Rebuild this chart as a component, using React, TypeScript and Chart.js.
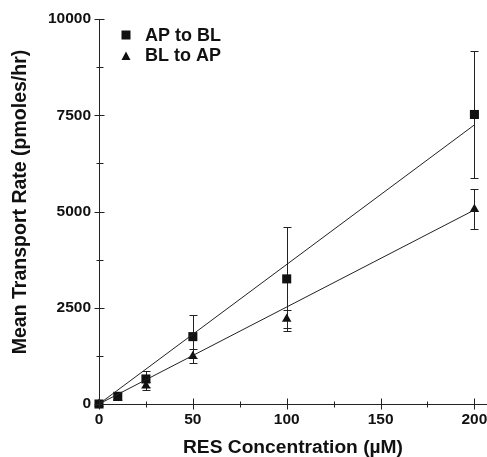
import React, { useEffect, useRef } from "react";
import { Chart, registerables } from "chart.js";

Chart.register(...registerables);

const concentrations = [0, 10, 25, 50, 100, 200];
const apToBl = [0, 200, 650, 1750, 3250, 7520];
const apToBlErr = [0, 0, 215, 550, 1360, 1640];
const blToAp = [0, 150, 475, 1240, 2210, 5060];
const blToApErr = [0, 0, 100, 180, 230, 520];
const fitX = [0, 200];
const fitAp = [0, 7250];
const fitBl = [0, 5040];
const xMajorTicks = [0, 50, 100, 150, 200];
const xMinorTicks = [25, 75, 125, 175];
const yMajorTicks = [0, 2500, 5000, 7500, 10000];
const yMinorTicks = [1250, 3750, 6250, 8750];
const legendLabels = ["AP to BL", "BL to AP"];
const yTitle = "Mean Transport Rate (pmoles/hr)";
const xTitle = "RES Concentration (µM)";

const FONT = "'Liberation Sans', Arial, Helvetica, sans-serif";
const INK = "#111";

const decorations = {
  id: "decorations",
  beforeDatasetsDraw(chart: any) {
    const { ctx, scales } = chart;
    const xs = scales.x;
    const ys = scales.y;
    ctx.save();
    ctx.strokeStyle = "#222";
    ctx.lineWidth = 1;
    const drawSeries = (vals: number[], errs: number[]) => {
      concentrations.forEach((c, i) => {
        const e = errs[i];
        if (!e) return;
        const x = Math.round(xs.getPixelForValue(c)) + 0.5;
        const yt = Math.round(ys.getPixelForValue(vals[i] + e)) + 0.5;
        const yb = Math.round(ys.getPixelForValue(vals[i] - e)) + 0.5;
        ctx.beginPath();
        ctx.moveTo(x, yt);
        ctx.lineTo(x, yb);
        ctx.moveTo(x - 4, yt);
        ctx.lineTo(x + 4, yt);
        ctx.moveTo(x - 4, yb);
        ctx.lineTo(x + 4, yb);
        ctx.stroke();
      });
    };
    drawSeries(apToBl, apToBlErr);
    drawSeries(blToAp, blToApErr);
    ctx.restore();
  },
  afterDraw(chart: any) {
    const { ctx, scales } = chart;
    const xs = scales.x;
    const ys = scales.y;
    ctx.save();
    ctx.strokeStyle = "#222";
    ctx.lineWidth = 1;
    const axisY = Math.round(ys.getPixelForValue(0)) + 0.5;
    const axisX = Math.round(xs.getPixelForValue(0)) + 0.5;
    ctx.beginPath();
    xMajorTicks.forEach((v) => {
      const x = Math.round(xs.getPixelForValue(v)) + 0.5;
      ctx.moveTo(x, axisY - 6);
      ctx.lineTo(x, axisY + 5);
    });
    xMinorTicks.forEach((v) => {
      const x = Math.round(xs.getPixelForValue(v)) + 0.5;
      ctx.moveTo(x, axisY - 3);
      ctx.lineTo(x, axisY + 3);
    });
    yMajorTicks.forEach((v) => {
      const y = Math.round(ys.getPixelForValue(v)) + 0.5;
      ctx.moveTo(axisX - 5, y);
      ctx.lineTo(axisX + 5, y);
    });
    yMinorTicks.forEach((v) => {
      const y = Math.round(ys.getPixelForValue(v)) + 0.5;
      ctx.moveTo(axisX - 3, y);
      ctx.lineTo(axisX + 4, y);
    });
    ctx.stroke();

    // legend
    const lx = 126;
    ctx.fillStyle = INK;
    ctx.fillRect(lx - 4.5, 35 - 4.5, 9, 9);
    ctx.beginPath();
    ctx.moveTo(lx, 51.5);
    ctx.lineTo(lx + 4.5, 60);
    ctx.lineTo(lx - 4.5, 60);
    ctx.closePath();
    ctx.fill();
    ctx.font = `bold 18px ${FONT}`;
    ctx.textBaseline = "middle";
    ctx.textAlign = "left";
    ctx.fillText(legendLabels[0], 145, 36);
    ctx.fillText(legendLabels[1], 145, 56.5);

    // y axis title
    ctx.translate(20.5, 202);
    ctx.rotate(-Math.PI / 2);
    ctx.font = `bold 19.5px ${FONT}`;
    ctx.textAlign = "center";
    ctx.textBaseline = "middle";
    ctx.fillText(yTitle, 0, 0);
    ctx.restore();
  },
};

export default function App() {
  const ref = useRef<HTMLCanvasElement | null>(null);
  useEffect(() => {
    if (!ref.current) return;
    const tickFont = { family: FONT, size: 15.5, weight: "bold" as const };
    const titleFont = { family: FONT, size: 19.2, weight: "bold" as const, lineHeight: 1 };
    const chart = new Chart(ref.current, {
      type: "scatter",
      data: {
        datasets: [
          {
            label: "fit AP",
            data: fitX.map((x, i) => ({ x, y: fitAp[i] })),
            showLine: true,
            borderColor: "#222",
            borderWidth: 1,
            pointRadius: 0,
          },
          {
            label: "fit BL",
            data: fitX.map((x, i) => ({ x, y: fitBl[i] })),
            showLine: true,
            borderColor: "#222",
            borderWidth: 1,
            pointRadius: 0,
          },
          {
            label: legendLabels[1],
            data: concentrations.map((x, i) => ({ x, y: blToAp[i] })),
            pointStyle: "triangle",
            pointRadius: 5.5,
            backgroundColor: INK,
            borderColor: INK,
            borderWidth: 0,
            clip: false,
          },
          {
            label: legendLabels[0],
            data: concentrations.map((x, i) => ({ x, y: apToBl[i] })),
            pointStyle: "rect",
            pointRadius: 6.4,
            backgroundColor: INK,
            borderColor: INK,
            borderWidth: 0,
            clip: false,
          },
        ],
      },
      options: {
        animation: false,
        responsive: false,
        layout: { autoPadding: false, padding: { top: 19, left: 0, right: 0, bottom: 0 } },
        plugins: { legend: { display: false }, tooltip: { enabled: false } },
        scales: {
          x: {
            type: "linear",
            min: 0,
            max: 206.7,
            afterBuildTicks: (s: any) => {
              s.ticks = xMajorTicks.map((v) => ({ value: v }));
            },
            afterFit: (s: any) => {
              s.height = 53;
              s.paddingLeft = 0;
              s.paddingRight = 0;
            },
            ticks: {
              font: tickFont,
              color: INK,
              padding: 6,
              maxRotation: 0,
              autoSkip: false,
              callback: (v: any) => String(v),
            },
            grid: { display: false, drawTicks: false },
            border: { display: true, color: "#222", width: 1 },
            title: {
              display: true,
              text: xTitle,
              font: titleFont,
              color: INK,
              padding: { top: 0, bottom: 0 },
            },
          },
          y: {
            type: "linear",
            min: 0,
            max: 10000,
            afterBuildTicks: (s: any) => {
              s.ticks = yMajorTicks.map((v) => ({ value: v }));
            },
            afterFit: (s: any) => {
              s.width = 99;
              s.paddingTop = 0;
              s.paddingBottom = 0;
            },
            ticks: { font: tickFont, color: INK, padding: 8, callback: (v: any) => String(v) },
            grid: { display: false, drawTicks: false },
            border: { display: true, color: "#222", width: 1 },
            title: { display: false },
          },
        },
      },
      plugins: [decorations],
    });
    return () => chart.destroy();
  }, []);
  return (
    <div style={{ position: "fixed", left: 0, top: 0, width: 487, height: 457, background: "#fff" }}>
      <canvas ref={ref} width={487} height={457} style={{ width: 487, height: 457 }} />
    </div>
  );
}
